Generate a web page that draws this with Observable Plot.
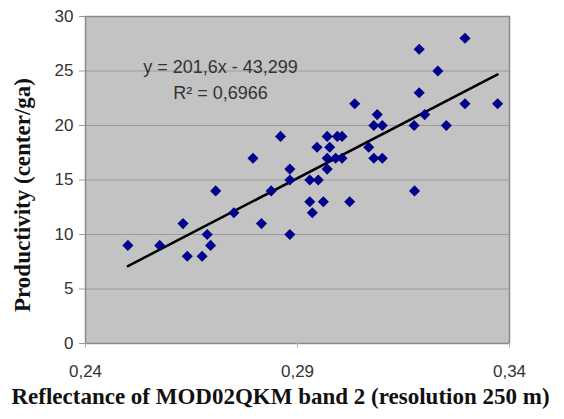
<!DOCTYPE html>
<html>
<head>
<meta charset="utf-8">
<script src="https://cdn.jsdelivr.net/npm/d3@7"></script>
<script src="https://cdn.jsdelivr.net/npm/@observablehq/plot@0.6"></script>
<style>
  html, body { margin: 0; padding: 0; background: #fff; }
  #chart svg { display: block; }
</style>
</head>
<body>
<div id="chart"></div>
<script>
// Reflectance (x) and productivity (y)
const reflectance = [
  0.250, 0.2575, 0.263, 0.264, 0.2675, 0.2687, 0.2695, 0.2707, 0.275, 0.2795,
  0.2815, 0.2838, 0.286, 0.2882, 0.2882, 0.2882, 0.2929, 0.2949, 0.2929, 0.2935,
  0.2961, 0.2946, 0.2976, 0.297, 0.2994, 0.3005, 0.297, 0.299, 0.3005, 0.297,
  0.3023, 0.3035, 0.3068, 0.308, 0.310, 0.308, 0.310, 0.3088, 0.3176, 0.3175,
  0.3187, 0.3187, 0.320, 0.3231, 0.3251, 0.3295, 0.3295, 0.3372
];
const productivity = [
  9, 9, 11, 8, 8, 10, 9, 14, 12, 17,
  11, 14, 19, 16, 15, 10, 15, 15, 13, 12,
  13, 18, 18, 19, 19, 19, 17, 17, 17, 16,
  13, 22, 18, 20, 20, 17, 17, 21, 14, 20,
  23, 27, 21, 25, 20, 28, 22, 22
];
const xTicks = [0.24, 0.29, 0.34];
const yTicks = [0, 5, 10, 15, 20, 25, 30];
const gridY = [5, 10, 15, 20, 25];
const slope = 201.6;
const intercept = -43.299;
const equationLines = ["y = 201,6x - 43,299", "R² = 0,6966"];
const xTitle = "Reflectance of MOD02QKM band 2 (resolution 250 m)";
const yTitle = "Productivity (center/ga)";

const points = reflectance.map((x, i) => ({x, y: productivity[i]}));
const trendX = [d3.min(reflectance), d3.max(reflectance)];
const trend = trendX.map(x => ({x, y: slope * x + intercept}));

const comma = (d, digits) => d.toFixed(digits).replace(".", ",");
const serif = "'Liberation Serif', 'Times New Roman', serif";

const chart = Plot.plot({
  width: 564,
  height: 419,
  marginLeft: 85,
  marginRight: 55,
  marginTop: 16,
  marginBottom: 76,
  style: {fontFamily: "'Liberation Sans', Arial, sans-serif", color: "#333", background: "#fff"},
  x: {domain: [0.24, 0.34]},
  y: {domain: [0, 30]},
  marks: [
    Plot.frame({fill: "#c3c3c3", stroke: null}),
    Plot.ruleY(gridY, {stroke: "#9c9c9c", strokeWidth: 1}),
    Plot.frame({stroke: "#8a8a8a", strokeWidth: 1.5}),
    Plot.axisY({ticks: yTicks, tickSize: 6, tickPadding: 6, fontSize: 17, label: null, stroke: "#999", tickFormat: d => String(d)}),
    Plot.axisX({ticks: xTicks, tickSize: 5, tickPadding: 16, fontSize: 17, label: null, stroke: "#bbb", tickFormat: d => comma(d, 2)}),
    Plot.line(trend, {x: "x", y: "y", stroke: "#000", strokeWidth: 2.5}),
    Plot.dot(points, {x: "x", y: "y", symbol: "diamond2", r: 5, fill: "#00008b", stroke: "none"}),
    Plot.text([equationLines[0]], {frameAnchor: "top-left", textAnchor: "middle", dx: 135, dy: 44, fontSize: 18, fill: "#333"}),
    Plot.text([equationLines[1]], {frameAnchor: "top-left", textAnchor: "middle", dx: 135, dy: 70, fontSize: 18, fill: "#333"}),
    Plot.text([xTitle], {frameAnchor: "bottom", textAnchor: "middle", dx: -17, dy: 60, fontSize: 23, fontWeight: "bold", fontFamily: serif, fill: "#111"}),
    Plot.text([yTitle], {frameAnchor: "left", textAnchor: "middle", rotate: -90, dx: -63, dy: 15, fontSize: 23, fontWeight: "bold", fontFamily: serif, fill: "#111"})
  ]
});
document.getElementById("chart").append(chart);
</script>
</body>
</html>
